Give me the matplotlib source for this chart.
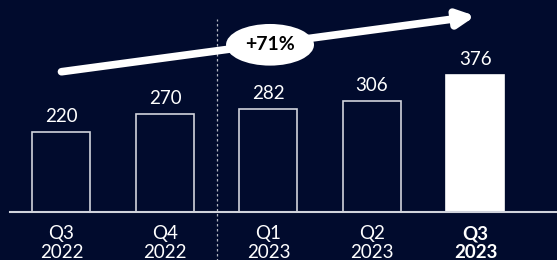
import matplotlib.pyplot as plt

quarters = ["Q3", "Q4", "Q1", "Q2", "Q3"]
years = ["2022", "2022", "2023", "2023", "2023"]
values = [220, 270, 282, 306, 376]
growth_label = "+71%"

bg = "#010b2d"
plt.rcParams['font.family'] = ['Lato', 'DejaVu Sans']

fig = plt.figure(figsize=(5.57, 2.6), dpi=100)
fig.patch.set_facecolor(bg)
ax = fig.add_axes([0, 0, 1, 1])
ax.set_facecolor(bg)

last = len(values) - 1

# bars: outlined, last one filled
for i, v in enumerate(values):
    filled = i == last
    ax.bar(i, v, width=0.56, color="white" if filled else bg,
           edgecolor="white" if filled else "#d0d3dc", linewidth=1.2, zorder=2)
    ax.annotate(str(v), (i, v), xytext=(0, 5), textcoords="offset points",
                ha="center", va="bottom", color="white", fontsize=13.5)
    ax.text(i, -36, quarters[i] + "\n" + years[i], ha="center", va="top",
            color="white", fontsize=13.5, linespacing=1.12,
            fontweight="bold" if filled else "normal")

# baseline
ax.axhline(0, xmin=0.018, xmax=1, color="#d0d3dc", linewidth=1.5, zorder=3)

# divider between 2022 and 2023
ax.plot([1.5, 1.5], [-140, 530], color="#b0b4c0", linewidth=0.9,
        linestyle=(0, (2, 2)), zorder=1)

# growth arrow
ax.annotate("", xy=(4.0, 538), xytext=(0.0, 385),
            arrowprops=dict(arrowstyle="-|>,head_length=1.0,head_width=0.5",
                            color="white", linewidth=5.5, shrinkA=0, shrinkB=0),
            zorder=4)
ax.text(2.015, 459, growth_label, ha="center", va="center", fontsize=14,
        fontweight="bold", color="black", zorder=5,
        bbox=dict(boxstyle="ellipse,pad=0.32", fc="white", ec="none"))

ax.set_xlim(-0.594, 4.788)
ax.set_ylim(-132, 582)
ax.axis("off")

fig.savefig("out.png", dpi=100, facecolor=bg)
